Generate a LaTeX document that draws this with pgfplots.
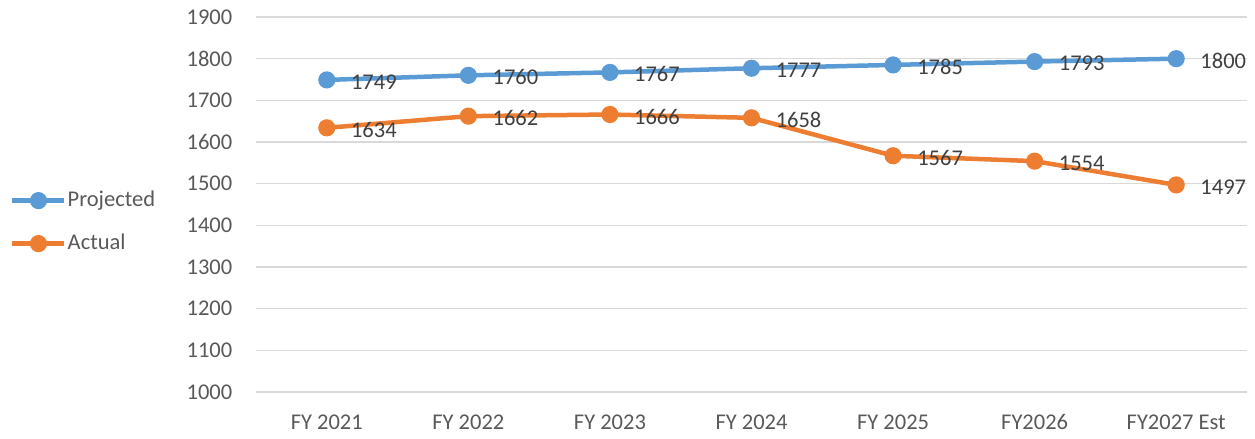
\documentclass[border=0pt]{standalone}
\usepackage{fontspec}
\setmainfont{Carlito}
\usepackage{pgfplots}
\pgfplotsset{compat=1.18}
\definecolor{projblue}{HTML}{5B9BD5}
\definecolor{actorange}{HTML}{ED7D31}
\definecolor{gridgray}{HTML}{D9D9D9}
\definecolor{ticktext}{HTML}{595959}
\definecolor{labeltext}{HTML}{404040}
\begin{document}
\fontsize{22.5bp}{27bp}\selectfont
\begin{tikzpicture}
\begin{axis}[
  scale only axis, width=991bp, height=375bp,
  xmin=-0.5, xmax=6.5, ymin=1000, ymax=1900,
  xtick={0,1,2,3,4,5,6},
  xticklabels={FY 2021,FY 2022,FY 2023,FY 2024,FY 2025,FY2026,FY2027 Est},
  ytick={1000,1100,...,1900},
  /pgf/number format/assume math mode=true,
  /pgf/number format/1000 sep={},
  axis line style={draw=none},
  major tick length=0pt,
  ymajorgrids, grid style={gridgray, line width=1.5bp},
  tick label style={font=\fontsize{22.5bp}{27bp}\selectfont, text=ticktext},
  yticklabel style={xshift=-16bp},
  xticklabel style={yshift=-15bp},
  clip=false,
  nodes near coords,
  nodes near coords align=horizontal,
  every node near coord/.append style={font=\fontsize{22.5bp}{27bp}\selectfont, text=labeltext, inner sep=0pt, xshift=22bp, yshift=-2bp},
  legend style={draw=none, fill=none, at={(axis description cs:-0.2482,0.453)}, anchor=west,
    inner xsep=0pt, inner ysep=0pt, row sep=22bp,
    nodes={inner sep=1bp, text=ticktext, font=\fontsize{22.5bp}{27bp}\selectfont}},
  legend cell align=left,
  legend image code/.code={
    \draw[#1, mark repeat=2, mark phase=2] plot coordinates {(0bp,0bp) (26bp,0bp) (52bp,0bp)};
  },
]
\coordinate (O) at (rel axis cs:0,0);
\addplot+[projblue, line width=4.5bp, mark=*, mark size=6.3bp, mark options={fill=projblue, draw=none}]
  coordinates {(0,1749)(1,1760)(2,1767)(3,1777)(4,1785)(5,1793)(6,1800)};
\addlegendentry{Projected}
\addplot+[actorange, line width=4.5bp, mark=*, mark size=6.3bp, mark options={fill=actorange, draw=none}]
  coordinates {(0,1634)(1,1662)(2,1666)(3,1658)(4,1567)(5,1554)(6,1497)};
\addlegendentry{Actual}
\end{axis}
\pgfresetboundingbox
\path ([xshift=-256bp,yshift=-47bp]O) rectangle ([xshift=999bp,yshift=392bp]O);
\end{tikzpicture}
\end{document}
